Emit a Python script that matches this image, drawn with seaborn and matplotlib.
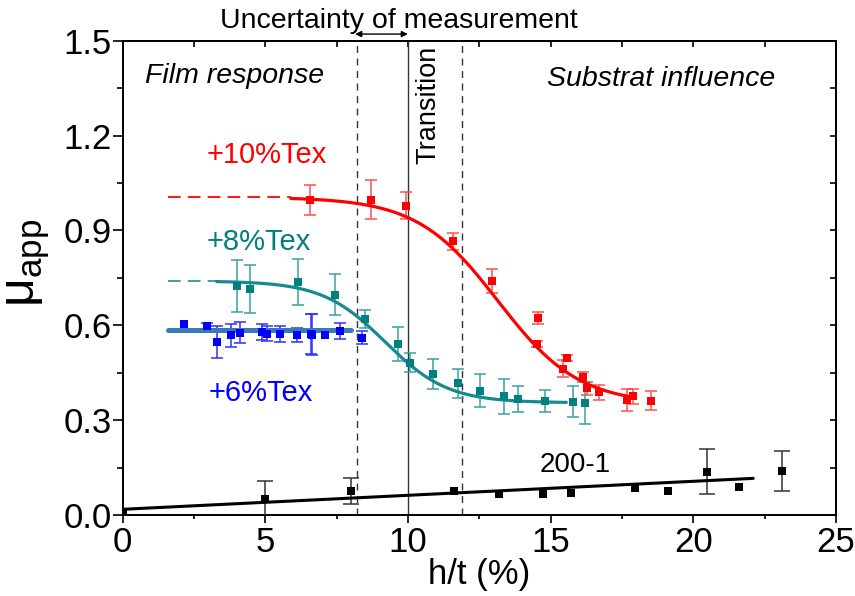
import numpy as np
import pandas as pd
import matplotlib
matplotlib.use("Agg")
import matplotlib.pyplot as plt
import seaborn as sns
from matplotlib.ticker import MultipleLocator

# ---- measured points: h/t (%), apparent friction coefficient, error ----
tex10_x = [6.57, 8.71, 9.92, 11.58, 12.96, 14.56, 14.52, 15.43, 15.59, 16.13, 16.27, 16.69, 17.67, 17.90, 18.50]
tex10_y = [0.997, 0.997, 0.978, 0.866, 0.739, 0.623, 0.541, 0.463, 0.497, 0.437, 0.401, 0.388, 0.365, 0.376, 0.362]
tex10_e = [0.047, 0.062, 0.043, 0.027, 0.038, 0.019, 0.010, 0.026, 0.010, 0.015, 0.020, 0.023, 0.035, 0.024, 0.031]

tex8_x = [4.01, 4.48, 6.14, 7.43, 8.51, 9.64, 10.08, 10.89, 11.74, 12.53, 13.35, 13.86, 14.79, 15.80, 16.22]
tex8_y = [0.725, 0.715, 0.737, 0.697, 0.619, 0.542, 0.481, 0.447, 0.416, 0.393, 0.376, 0.366, 0.360, 0.358, 0.355]
tex8_e = [0.082, 0.075, 0.074, 0.066, 0.028, 0.054, 0.030, 0.047, 0.046, 0.052, 0.055, 0.041, 0.034, 0.049, 0.067]

tex6_x = [2.15, 2.97, 3.30, 3.81, 4.11, 4.90, 5.07, 5.51, 6.13, 6.60, 6.65, 7.11, 7.63, 8.40]
tex6_y = [0.605, 0.597, 0.547, 0.568, 0.577, 0.579, 0.574, 0.572, 0.568, 0.572, 0.570, 0.569, 0.582, 0.561]
tex6_e = [0.0, 0.010, 0.050, 0.036, 0.032, 0.026, 0.025, 0.025, 0.022, 0.064, 0.065, 0.0, 0.026, 0.021]

ref_x = [0.0, 4.98, 8.00, 11.60, 13.18, 14.75, 15.71, 17.96, 19.13, 20.48, 21.60, 23.12]
ref_y = [0.010, 0.051, 0.076, 0.075, 0.066, 0.068, 0.070, 0.084, 0.076, 0.137, 0.088, 0.139]
ref_e = [0.0, 0.057, 0.040, 0.0, 0.0, 0.0, 0.0, 0.0, 0.0, 0.072, 0.0, 0.064]

# ---- fitted models ----
# Boltzmann sigmoid: A1 (film plateau), A2 (substrate plateau), x0, dx, fitted range
fit10 = dict(A1=1.005, A2=0.350, x0=13.15, dx=1.42, lo=5.9, hi=17.7)
fit8 = dict(A1=0.740, A2=0.355, x0=9.20, dx=1.10, lo=3.3, hi=15.55)
plateau6 = 0.584          # constant level of the +6%Tex film
plateau6_range = (1.6, 8.02)
ref_fit = dict(b=0.018, m=0.00443, lo=0.0, hi=22.1)   # linear fit of 200-1
extrap_start = 1.6        # start of dashed plateau extrapolation

transition_x = 10.0
uncert_lo, uncert_hi = 8.2, 11.9

RED, TEAL, BLUE, BLUEFIT, BLACK = "#ff0000", "#008080", "#0000ff", "#3a78b8", "#000000"


def boltzmann(x, p):
    return p["A2"] + (p["A1"] - p["A2"]) / (1.0 + np.exp((x - p["x0"]) / p["dx"]))


sns.set_theme(style="white")
plt.rcParams["font.family"] = ["Liberation Sans", "DejaVu Sans"]
plt.rcParams["mathtext.fontset"] = "custom"
plt.rcParams["mathtext.rm"] = "Liberation Sans"
plt.rcParams["text.color"] = "black"
plt.rcParams["axes.labelcolor"] = "black"
plt.rcParams["xtick.color"] = "black"
plt.rcParams["ytick.color"] = "black"

fig = plt.figure(figsize=(8.55, 5.96), dpi=100)
ax = fig.add_axes([0.1433, 0.1359, 0.9778 - 0.1433, 0.9317 - 0.1359])

# transition and uncertainty limits
ax.axvline(transition_x, color="#333333", lw=1.0, zorder=1)
for xv in (uncert_lo, uncert_hi):
    ax.axvline(xv, color="#333333", lw=1.0, ls=(0, (5, 4)), zorder=1)

# fitted curves
xs10 = np.linspace(fit10["lo"], fit10["hi"], 300)
xs8 = np.linspace(fit8["lo"], fit8["hi"], 300)
curves = pd.concat([
    pd.DataFrame({"x": xs10, "y": boltzmann(xs10, fit10), "s": "10"}),
    pd.DataFrame({"x": xs8, "y": boltzmann(xs8, fit8), "s": "8"}),
])
sns.lineplot(data=curves, x="x", y="y", hue="s", palette={"10": RED, "8": "#168a8c"},
             lw=2.3, legend=False, ax=ax, zorder=4, sort=False, estimator=None)

# dashed plateau extrapolations
ax.plot([extrap_start, fit10["lo"]], [fit10["A1"]] * 2, color=RED, lw=1.3, ls=(0, (7, 4)), zorder=3)
ax.plot([extrap_start, fit8["lo"]], [fit8["A1"]] * 2, color="#2a9a9a", lw=1.3, ls=(0, (7, 4)), zorder=3)

# +6%Tex constant level
sns.lineplot(x=list(plateau6_range), y=[plateau6, plateau6], color=BLUEFIT, lw=3.6, ax=ax, zorder=4)

# 200-1 linear fit
xr = np.array([ref_fit["lo"], ref_fit["hi"]])
sns.lineplot(x=xr, y=ref_fit["b"] + ref_fit["m"] * xr, color=BLACK, lw=2.2, ax=ax, zorder=4)

# measured points with error bars (bars only where an error was measured)
series = [
    (tex10_x, tex10_y, tex10_e, RED, "#ff5050", 4.5),
    (tex8_x, tex8_y, tex8_e, TEAL, "#3aa0a0", 4.5),
    (tex6_x, tex6_y, tex6_e, BLUE, "#3030ff", 4.5),
    (ref_x, ref_y, ref_e, BLACK, "#333333", 6.0),
]
for xv, yv, ev, col, ecol, cap in series:
    xa, ya, ea = np.asarray(xv), np.asarray(yv), np.asarray(ev)
    m = ea > 0
    ax.errorbar(xa[m], ya[m], yerr=ea[m], fmt="none", ecolor=ecol, elinewidth=1.1,
                capsize=cap, capthick=1.1, zorder=3)
    sns.scatterplot(x=xa, y=ya, marker="s", s=38, color=col, edgecolor=col,
                    linewidth=0, ax=ax, zorder=5)

# limits, ticks
ax.set_xlim(0, 25)
ax.set_ylim(0, 1.5)
ax.xaxis.set_minor_locator(MultipleLocator(2.5))
ax.yaxis.set_minor_locator(MultipleLocator(0.15))
ax.set_xticks([0, 5, 10, 15, 20, 25])
ax.set_xticklabels(["0", "5", "10", "15", "20", "25"])
ax.set_yticks([0.0, 0.3, 0.6, 0.9, 1.2, 1.5])
ax.set_yticklabels(["0.0", "0.3", "0.6", "0.9", "1.2", "1.5"])
ax.tick_params(which="both", direction="out", top=False, right=False,
               bottom=True, left=True, labelsize=25, width=1.2, colors="black")
ax.tick_params(axis="x", which="major", length=6, pad=2)
ax.tick_params(axis="x", which="minor", length=3)
ax.tick_params(axis="y", which="major", length=7, pad=1)
ax.tick_params(axis="y", which="minor", length=4)
for sp in ax.spines.values():
    sp.set_color("black")
    sp.set_linewidth(1.4)

top = ax.secondary_xaxis("top")
top.xaxis.set_major_locator(MultipleLocator(2.5))
top.tick_params(direction="in", length=4, width=1.2, labeltop=False)
right = ax.secondary_yaxis("right")
right.yaxis.set_major_locator(MultipleLocator(0.15))
right.tick_params(direction="in", length=4, width=1.2, labelright=False)

ax.set_xlabel("h/t (%)", fontsize=25, labelpad=-1)
ax.set_ylabel("μ$_{\\mathregular{app}}$", fontsize=36)
ax.yaxis.set_label_coords(-0.099, 0.532)

# annotations
ax.text(0.79, 1.389, "Film response", fontsize=20.5, style="italic", ha="left", va="center")
ax.text(14.86, 1.38, "Substrat influence", fontsize=20.5, style="italic", ha="left", va="center")
ax.text(2.96, 1.137, "+10%Tex", fontsize=21, color=RED, ha="left", va="center")
ax.text(2.96, 0.862, "+8%Tex", fontsize=21, color=TEAL, ha="left", va="center")
ax.text(3.0, 0.385, "+6%Tex", fontsize=21, color=BLUE, ha="left", va="center")
ax.text(14.6, 0.158, "200-1", fontsize=20, color=BLACK, ha="left", va="center")
ax.text(10.73, 1.298, "Transition", fontsize=19.5, rotation=90, ha="center", va="center")
ax.text(9.68, 1.562, "Uncertainty of measurement", fontsize=20.5, ha="center", va="center",
        clip_on=False)
ax.annotate("", xy=(uncert_lo - 0.05, 1.521), xytext=(transition_x, 1.521),
            arrowprops=dict(arrowstyle="<|-|>", color="black", lw=1.0,
                            mutation_scale=9, shrinkA=0, shrinkB=0),
            annotation_clip=False)

fig.savefig("out.png", dpi=100)
